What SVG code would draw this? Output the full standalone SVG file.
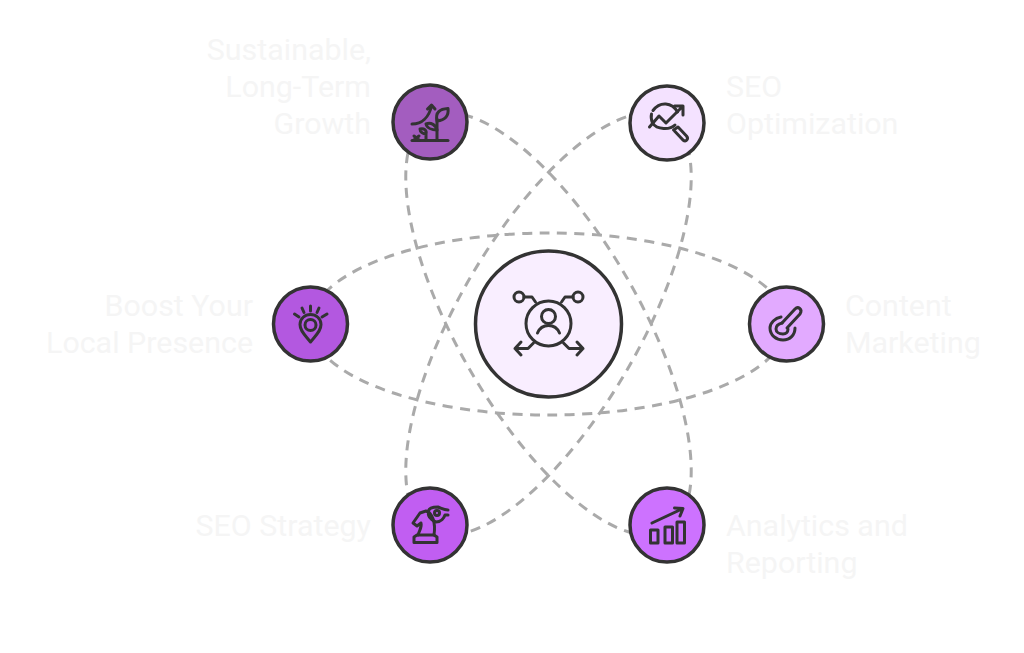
<svg xmlns="http://www.w3.org/2000/svg" width="1024" height="653" viewBox="0 0 1024 653">
<style>
.orbit{fill:none;stroke:#aaaaaa;stroke-width:3;stroke-dasharray:10 7.5}
.ring{stroke:#333333;stroke-width:3.5}
.icon{fill:none;stroke:#333333;stroke-width:3;stroke-linecap:round;stroke-linejoin:round}
.label{font-family:Roboto,"Liberation Sans",sans-serif;font-size:30.4px;fill:#f5f5f5}
.end{text-anchor:end}
</style>
<rect width="1024" height="653" fill="#ffffff"/>
<g id="connectors">
<ellipse class="orbit" cx="548.5" cy="324" rx="238" ry="91"/>
<ellipse class="orbit" cx="548.5" cy="324" rx="238" ry="91" transform="rotate(60 548.5 324)"/>
<ellipse class="orbit" cx="548.5" cy="324" rx="238" ry="91" transform="rotate(-60 548.5 324)"/>
</g>
<g id="node-center">
<circle class="ring" cx="548.5" cy="324" r="73" fill="#f9eeff"/>
<g class="icon">
<circle cx="548.5" cy="323.500" r="22.500"/>
<circle cx="548.500" cy="316.500" r="7"/>
<path d="M537.500 333C540 327 544 325.500 548.500 325.500S557 327 559.500 333"/>
<circle cx="519" cy="297" r="5"/>
<circle cx="578" cy="297" r="5"/>
<path d="M524 297H532L535.500 302"/>
<path d="M573 297H565L561.500 302"/>
<path d="M533.500 343L528 348.500H515M521 342L515 348.500L521 355"/>
<path d="M563.500 343L569 348.500H583M577 342L583 348.500L577 355"/>
</g>
</g>
<g id="node-growth">
<circle class="ring" cx="430" cy="122" r="37" fill="#a35dbf"/>
<g class="icon">
<path d="M412 124C422 124 429 117 431.500 106M427.500 109L431.500 105L435 109"/>
<path d="M412 140.500H448"/>
<path d="M437 140.500V119"/>
<path d="M437 121C435 112 440 109 448 108.500C449 116 445 120 437 121Z"/>
<path d="M437 130C432 130 427 128 426 124C431 122 436 125 437 130Z"/>
<path d="M426 140V134M426 134C423 134 420 132 420 129C424 128 427 130 426 134Z"/>
<path d="M414 136L419 140M419 136L414 140"/>
</g>
</g>
<g id="node-seo-optimization">
<circle class="ring" cx="667" cy="123" r="37" fill="#f4e2ff"/>
<g class="icon">
<path d="M653 110.500C660 101 672 102 677.500 112M675 125C670 130 657 130 652.500 123C651 119 651 116 651.500 114"/>
<path d="M649.500 127L659 116L666 123L682 107M674.500 106H683V115"/>
<path d="M673.500 130L678 127L686.500 136C689 139 686 142.500 683 140L674.500 131"/>
</g>
</g>
<g id="node-local">
<circle class="ring" cx="310.500" cy="324" r="37" fill="#b358e0"/>
<g class="icon">
<path d="M310.500 342C305 335 300 331 300 324.500C300 318.500 305 314.500 310.500 314.500S321 318.500 321 324.500C321 331 316 335 310.500 342Z"/>
<circle cx="310.500" cy="325" r="5.500"/>
<path d="M310.500 306V311M302 308L304 312.500M319 308L317 312.500M294.500 314L299 317M327 314L322 317"/>
</g>
</g>
<g id="node-content">
<circle class="ring" cx="786.500" cy="324" r="37" fill="#e2aaff"/>
<g class="icon">
<path d="M781 317C775 318 770 323 770 328C770 335 776 340 783 340C790 340 795 335 795 328"/>
<path d="M782 323C778 324 776 326 776 329C776 332 779 334 783 334C786 334 788 332 788 329"/>
<path d="M787 328L800 314C803 309 798 306 795 309L782 323"/>
</g>
</g>
<g id="node-strategy">
<circle class="ring" cx="430" cy="525" r="37" fill="#c15ef2"/>
<g class="icon">
<path d="M414 542.500H437V537L434 535H417L414 537Z"/>
<path d="M418 535C420 529 422 527 421 523L417 526L413 523L420 513L426 511C432 513 436 522 434 535"/>
<path d="M429 513C427 508 433 507 438 507C441 508 444 510 448 510M436 522C430 520 427 514 429 513M436 522C441 522 444 518 445 515H448"/>
<circle cx="437" cy="513" r="2.500"/>
</g>
</g>
<g id="node-analytics">
<circle class="ring" cx="667" cy="525" r="37" fill="#cd72ff"/>
<g class="icon">
<rect x="650.500" y="530" width="7.500" height="13"/>
<rect x="665" y="527" width="7.500" height="16"/>
<rect x="677" y="522" width="7.500" height="21"/>
<path d="M652 523L682 509M674.500 508L683 508.500L680 516"/>
</g>
</g>
<g id="labels">
<text class="label end" x="371" y="59.500">Sustainable,</text>
<text class="label end" x="371" y="96.500">Long-Term</text>
<text class="label end" x="371" y="133.500">Growth</text>
<text class="label" x="726" y="96.500">SEO</text>
<text class="label" x="726" y="133.500">Optimization</text>
<text class="label end" x="253" y="315.500">Boost Your</text>
<text class="label end" x="253" y="352.500">Local Presence</text>
<text class="label" x="845" y="315.500">Content</text>
<text class="label" x="845" y="352.500">Marketing</text>
<text class="label end" x="371" y="535.500">SEO Strategy</text>
<text class="label" x="726" y="535.500">Analytics and</text>
<text class="label" x="726" y="572.500">Reporting</text>
</g>
</svg>
